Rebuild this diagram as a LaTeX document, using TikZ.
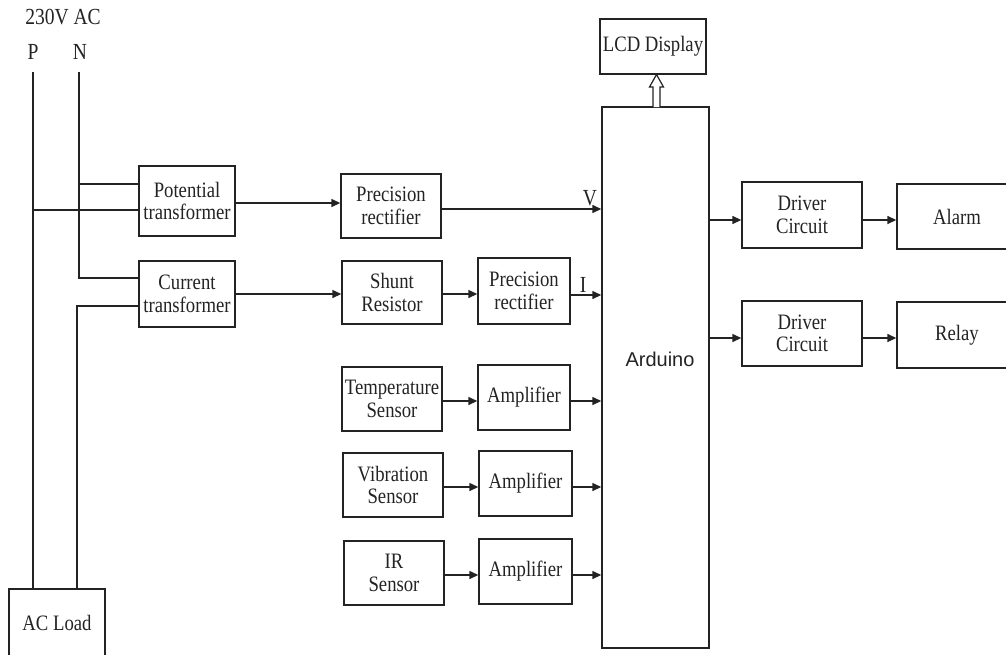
\documentclass[tikz,border=0pt]{standalone}
\usepackage{fontspec}
\setmainfont{Liberation Serif}[FakeStretch=0.85]
\newfontfamily\ardfont{Liberation Sans}
\usetikzlibrary{arrows.meta}
\definecolor{ink}{RGB}{35,35,35}
\tikzset{
  blk/.style={draw=ink, line width=1.4pt, inner sep=0pt, align=center, text=ink,
    font=\fontsize{22}{22.5}\selectfont},
  wire/.style={draw=ink, line width=1.4pt},
  arr/.style={wire, -{Triangle[length=9pt,width=8pt]}},
  lbl/.style={inner sep=0pt, text=ink, font=\fontsize{23}{24}\selectfont}
}
\begin{document}
\begin{tikzpicture}[x=1pt,y=-1pt]
\useasboundingbox (0,0) rectangle (1006,654);
\clip (0,0) rectangle (1006,654);
% labels
\node[lbl] (ac) at (63,17) {230V AC};
\node[lbl] (pl) at (33,52) {P};
\node[lbl] (nl) at (80,52) {N};
% blocks
\node[blk, minimum width=96pt, minimum height=70pt] (PT) at (187,201) {Potential\\transformer};
\node[blk, minimum width=96pt, minimum height=66pt] (CT) at (187,294) {Current\\transformer};
\node[blk, minimum width=96pt, minimum height=68pt] (load) at (57,623) {AC Load};
\node[blk, minimum width=100pt, minimum height=64pt] (PR1) at (391,206) {Precision\\rectifier};
\node[blk, minimum width=100pt, minimum height=63pt] (SR) at (392,292.5) {Shunt\\Resistor};
\node[blk, minimum width=92pt, minimum height=66pt] (PR2) at (524,291) {Precision\\rectifier};
\node[blk, minimum width=100pt, minimum height=64pt] (TS) at (392,399) {Temperature\\Sensor};
\node[blk, minimum width=92pt, minimum height=65pt] (A1) at (524,397.5) {Amplifier};
\node[blk, minimum width=100pt, minimum height=64pt] (VS) at (393,485) {Vibration\\Sensor};
\node[blk, minimum width=93pt, minimum height=65pt] (A2) at (525.5,483.5) {Amplifier};
\node[blk, minimum width=100pt, minimum height=64pt] (IR) at (394,573) {IR\\Sensor};
\node[blk, minimum width=93pt, minimum height=65pt] (A3) at (525.5,571.5) {Amplifier};
\node[blk, minimum width=107pt, minimum height=541pt] (ard) at (655.5,377.5) {};
\node[lbl, font=\ardfont\fontsize{20}{22}\selectfont] (ardt) at (660,359) {Arduino};
\node[blk, minimum width=106pt, minimum height=55pt] (lcd) at (653,46.5) {LCD Display};
\node[blk, minimum width=120pt, minimum height=66pt] (D1) at (802,215) {Driver\\Circuit};
\node[blk, minimum width=120pt, minimum height=65pt] (alarm) at (957,216.5) {Alarm};
\node[blk, minimum width=120pt, minimum height=65pt] (D2) at (802,333.5) {Driver\\Circuit};
\node[blk, minimum width=120pt, minimum height=66pt] (relay) at (957,335) {Relay};
% mains wiring
\coordinate (Ptop) at (33,72);
\coordinate (Ntop) at (79,72);
\coordinate (Nbot) at (79,278);
\coordinate (Nj) at (79,184);
\coordinate (Pj) at (33,210);
\coordinate (Lj) at (77,306);
\draw[wire] (Ptop) -- (Ptop |- load.north);
\draw[wire] (Ntop) -- (Nbot) -- (CT.west |- Nbot);
\draw[wire] (Nj) -- (PT.west |- Nj);
\draw[wire] (Pj) -- (PT.west |- Pj);
\draw[wire] (CT.west |- Lj) -- (Lj) -- (Lj |- load.north);
% signal path
\draw[arr] (PT.east |- 0,203) -- (PR1.west |- 0,203);
\draw[arr] (PR1.east |- 0,209) -- (ard.west |- 0,209);
\node[lbl] (vl) at (590,198) {V};
\draw[arr] (CT.east |- 0,294) -- (SR.west |- 0,294);
\draw[arr] (SR.east |- 0,294) -- (PR2.west |- 0,294);
\draw[arr] (PR2.east |- 0,295) -- (ard.west |- 0,295);
\node[lbl] (il) at (583,285) {I};
\draw[arr] (TS.east |- 0,401) -- (A1.west |- 0,401);
\draw[arr] (A1.east |- 0,401) -- (ard.west |- 0,401);
\draw[arr] (VS.east |- 0,487) -- (A2.west |- 0,487);
\draw[arr] (A2.east |- 0,487) -- (ard.west |- 0,487);
\draw[arr] (IR.east |- 0,575) -- (A3.west |- 0,575);
\draw[arr] (A3.east |- 0,575) -- (ard.west |- 0,575);
\draw[arr] (ard.east |- 0,220) -- (D1.west |- 0,220);
\draw[arr] (D1.east |- 0,220) -- (alarm.west |- 0,220);
\draw[arr] (ard.east |- 0,338) -- (D2.west |- 0,338);
\draw[arr] (D2.east |- 0,338) -- (relay.west |- 0,338);
% hollow arrow Arduino -> LCD
\draw[draw=ink, line width=1.2pt, fill=white, line join=miter]
  (653,107) -- (653,87) -- (649.5,87) -- (656.5,74.5) -- (663.5,87) -- (660,87) -- (660,107);
\end{tikzpicture}
\end{document}
